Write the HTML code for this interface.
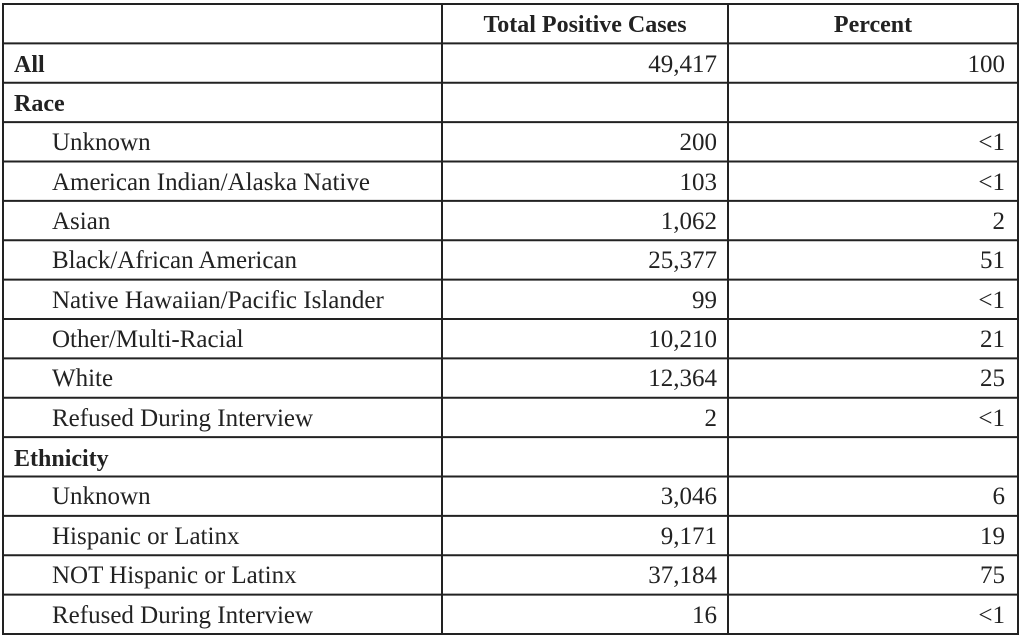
<!DOCTYPE html>
<html><head><style>body{margin:0;background:#fff}</style></head><body>
<svg width="1024" height="637" xmlns="http://www.w3.org/2000/svg" font-family="Liberation Serif, serif" font-size="25" fill="#222">
<g stroke="#222" stroke-width="2">
<rect x="3" y="4" width="1015" height="630" fill="none"/>
<line x1="442" y1="4" x2="442" y2="634"/>
<line x1="728" y1="4" x2="728" y2="634"/>
<line x1="3" y1="43.4" x2="1018" y2="43.4"/>
<line x1="3" y1="82.8" x2="1018" y2="82.8"/>
<line x1="3" y1="122.1" x2="1018" y2="122.1"/>
<line x1="3" y1="161.5" x2="1018" y2="161.5"/>
<line x1="3" y1="200.9" x2="1018" y2="200.9"/>
<line x1="3" y1="240.3" x2="1018" y2="240.3"/>
<line x1="3" y1="279.6" x2="1018" y2="279.6"/>
<line x1="3" y1="319" x2="1018" y2="319"/>
<line x1="3" y1="358.4" x2="1018" y2="358.4"/>
<line x1="3" y1="397.8" x2="1018" y2="397.8"/>
<line x1="3" y1="437.1" x2="1018" y2="437.1"/>
<line x1="3" y1="476.5" x2="1018" y2="476.5"/>
<line x1="3" y1="515.9" x2="1018" y2="515.9"/>
<line x1="3" y1="555.3" x2="1018" y2="555.3"/>
<line x1="3" y1="594.6" x2="1018" y2="594.6"/>
</g>
<g font-weight="bold" font-size="24">
<text x="585" y="32" text-anchor="middle">Total Positive Cases</text>
<text x="873" y="32" text-anchor="middle">Percent</text>
<text x="14" y="72">All</text>
<text x="14" y="111">Race</text>
<text x="14" y="466">Ethnicity</text>
</g>
<g>
<text x="52" y="150">Unknown</text>
<text x="52" y="190">American Indian/Alaska Native</text>
<text x="52" y="229">Asian</text>
<text x="52" y="268">Black/African American</text>
<text x="52" y="308">Native Hawaiian/Pacific Islander</text>
<text x="52" y="347">Other/Multi-Racial</text>
<text x="52" y="386">White</text>
<text x="52" y="426">Refused During Interview</text>
<text x="52" y="504">Unknown</text>
<text x="52" y="544">Hispanic or Latinx</text>
<text x="52" y="583">NOT Hispanic or Latinx</text>
<text x="52" y="623">Refused During Interview</text>
</g>
<g text-anchor="end">
<text x="717" y="72">49,417</text><text x="1005" y="72">100</text>
<text x="717" y="150">200</text><text x="1005" y="150">&lt;1</text>
<text x="717" y="190">103</text><text x="1005" y="190">&lt;1</text>
<text x="717" y="229">1,062</text><text x="1005" y="229">2</text>
<text x="717" y="268">25,377</text><text x="1005" y="268">51</text>
<text x="717" y="308">99</text><text x="1005" y="308">&lt;1</text>
<text x="717" y="347">10,210</text><text x="1005" y="347">21</text>
<text x="717" y="386">12,364</text><text x="1005" y="386">25</text>
<text x="717" y="426">2</text><text x="1005" y="426">&lt;1</text>
<text x="717" y="504">3,046</text><text x="1005" y="504">6</text>
<text x="717" y="544">9,171</text><text x="1005" y="544">19</text>
<text x="717" y="583">37,184</text><text x="1005" y="583">75</text>
<text x="717" y="623">16</text><text x="1005" y="623">&lt;1</text>
</g>
</svg>
</body></html>
